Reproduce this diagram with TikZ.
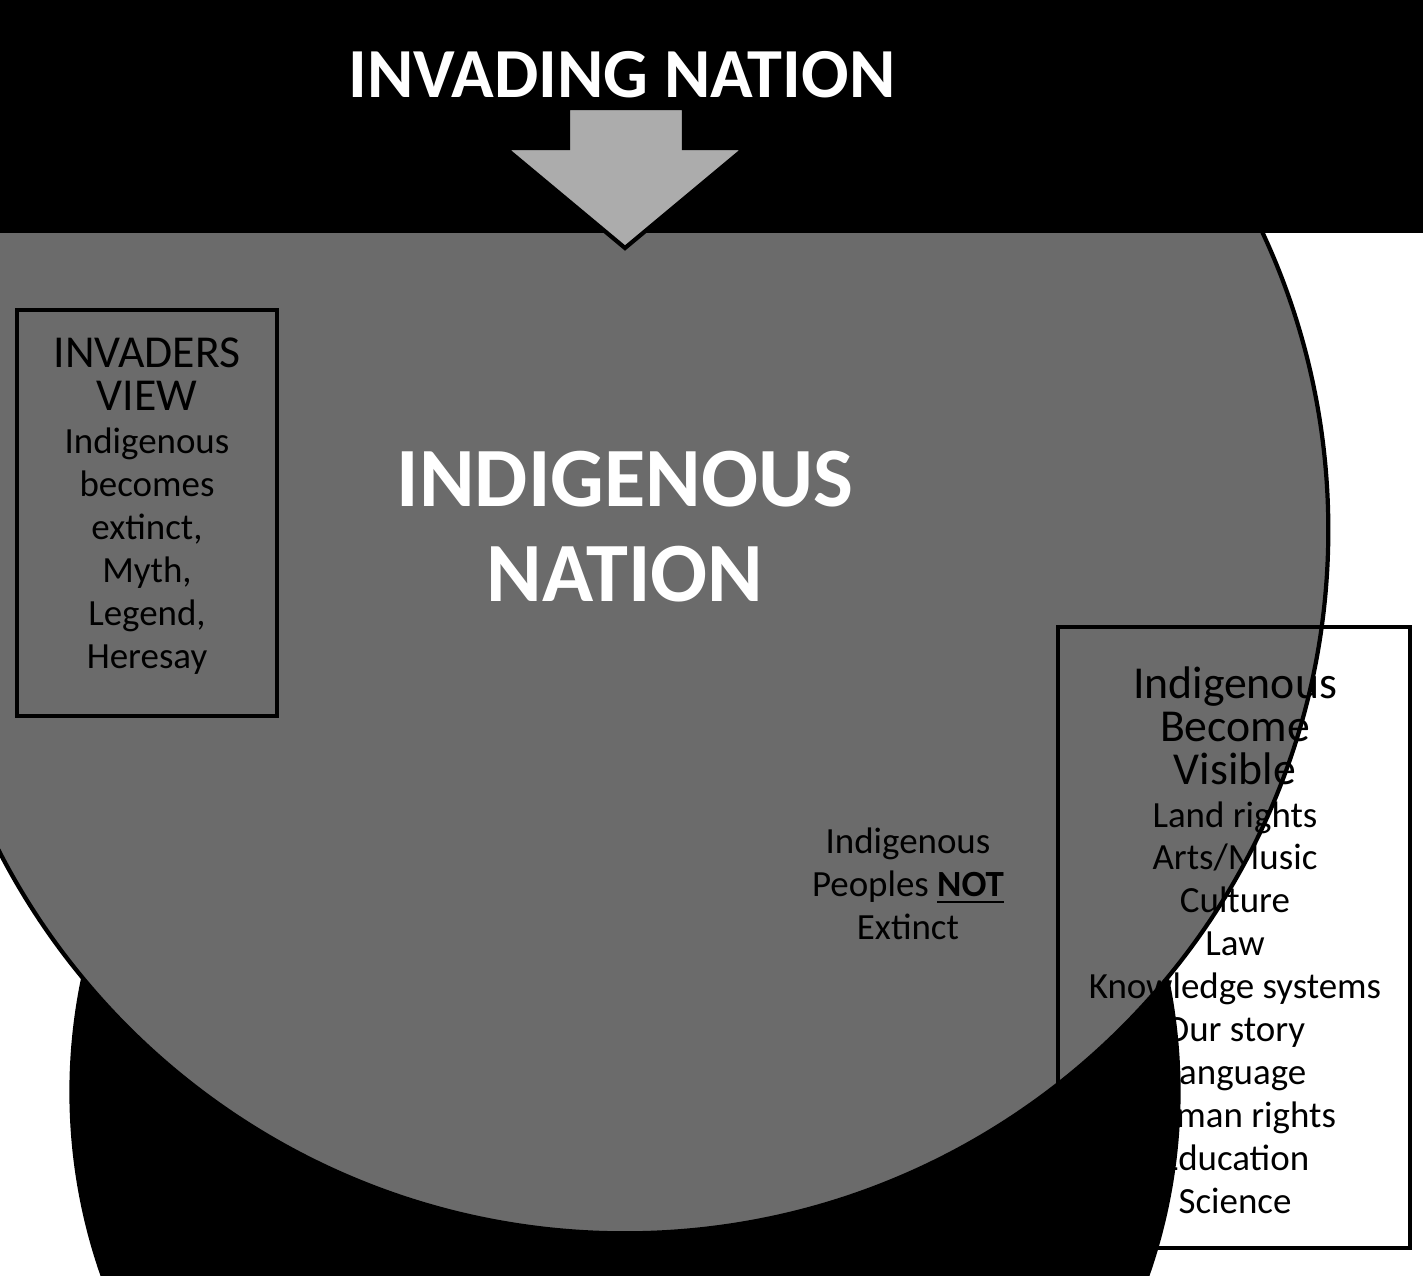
\documentclass[tikz,border=0pt]{standalone}
\usepackage{fontspec}
\setmainfont{Carlito}
\usetikzlibrary{decorations.text,calc}
\newcommand{\bigf}{\fontsize{13}{15}\selectfont}
\newcommand{\smf}{\fontsize{10.5}{12.2}\selectfont}
\begin{document}
\begin{tikzpicture}[x=0.01cm,y=0.01cm,
  arrowshape/.style={draw=black,line width=1.2pt,fill=gray!65},
  boxtxt/.style={align=center,font=\smf},
  ringA/.style={font=\fontsize{18}{18}\selectfont},
  ringB/.style={font=\fontsize{13.5}{14}\selectfont}]
\useasboundingbox (0,0) rectangle (1423,-1276);
\coordinate (C) at (625,-533);
% rings
\fill[gray!12] (C) circle (314);
\draw[line width=1.2pt] (C) circle (314);
\fill[white] (C) circle (251);
\draw[line width=1.2pt] (C) circle (251);
\foreach \l/\a in {I/212,N/193,V/174,A/155,S/136,I/117,O/98,N/79,-/60}
  \node[ringA,rotate=\a-90] at ($(C)+(\a:283)$) {\l};
\foreach \l/\a in {I/198,N/186.7,D/175.4,I/164.1,G/152.8,E/141.5,N/130.2,O/118.9,U/107.6,S/96.3,I/73.7,D/62.4,E/51.1,O/39.8,L/28.5,O/17.2,G/5.9,Y/-5.4}
  \node[ringB,rotate=\a-90] at ($(C)+(\a:226)$) {\l};
% small arc text
\path[decorate,decoration={text along path,
  text={|\fontsize{4.3}{5}\selectfont|Taking the land}}]
  ($(C)+(64:290)$) arc[start angle=64,end angle=-30,radius=290];
\path[decorate,decoration={text along path,
  text={|\fontsize{4.3}{5}\selectfont|Dehumanising the indigenous peoples}}]
  ($(C)+(64:277)$) arc[start angle=64,end angle=-30,radius=277];
\path[decorate,decoration={text along path,
  text={|\fontsize{4.3}{5}\selectfont|Destroying law, culture, rights,}}]
  ($(C)+(64:264)$) arc[start angle=64,end angle=-30,radius=264];
% action circle
\node[circle,fill=black,minimum size=316,inner sep=0] (act) at (625,-1092) {};
\node[align=center,text=white,font=\smf] (actt) at (625,-1088)
  {\bigf ACTION\\ \smf Indigenism\\Resistance\\(Survival strategy)};
% bottom arrow
\draw[arrowshape] (570,-700) -- (570,-860) -- (505,-860) -- (625,-958) -- (745,-860) -- (684,-860) -- (684,-700) -- cycle;
\node[rotate=-90,align=center,font=\fontsize{10}{10.5}\selectfont] (cs) at (627,-818) {CONTINUOUS\\STRUGGLE};
% dark circle
\node[circle,draw=black,line width=1.2pt,fill=black!58,minimum size=400,inner sep=0] (ind) at (625,-530) {};
\node[align=center,text=white,font=\bfseries\fontsize{24}{27}\selectfont] (indt) at (625,-527) {INDIGENOUS\\NATION};
% top box
\node[fill=black,minimum width=565,minimum height=90,inner sep=0,text=white,font=\bfseries\fontsize{20}{22}\selectfont] (inv) at (622,-75) {INVADING NATION};
% top arrow
\draw[arrowshape] (568,-108) -- (568,-148) -- (505,-148) -- (625,-248) -- (745,-148) -- (684,-148) -- (684,-108) -- cycle;
% left box
\draw[line width=1pt] (17,-310) rectangle (277,-716);
\node[boxtxt] (lv) at (147,-506) {\bigf INVADERS\\ \bigf VIEW\\ \smf Indigenous\\becomes\\extinct,\\Myth,\\Legend,\\Heresay};
% right box
\draw[line width=1pt] (1058,-627) rectangle (1410,-1248);
\node[boxtxt] (rv) at (1235,-940) {\bigf Indigenous\\ \bigf Become\\ \bigf Visible\\ \smf Land rights\\Arts/Music\\Culture\\Law\\Knowledge systems\\Our story\\Language\\Human rights\\Education\\Science};
% middle text
\node[boxtxt] (mid) at (908,-884) {Indigenous\\Peoples \underline{\textbf{NOT}}\\Extinct};
\end{tikzpicture}
\end{document}
